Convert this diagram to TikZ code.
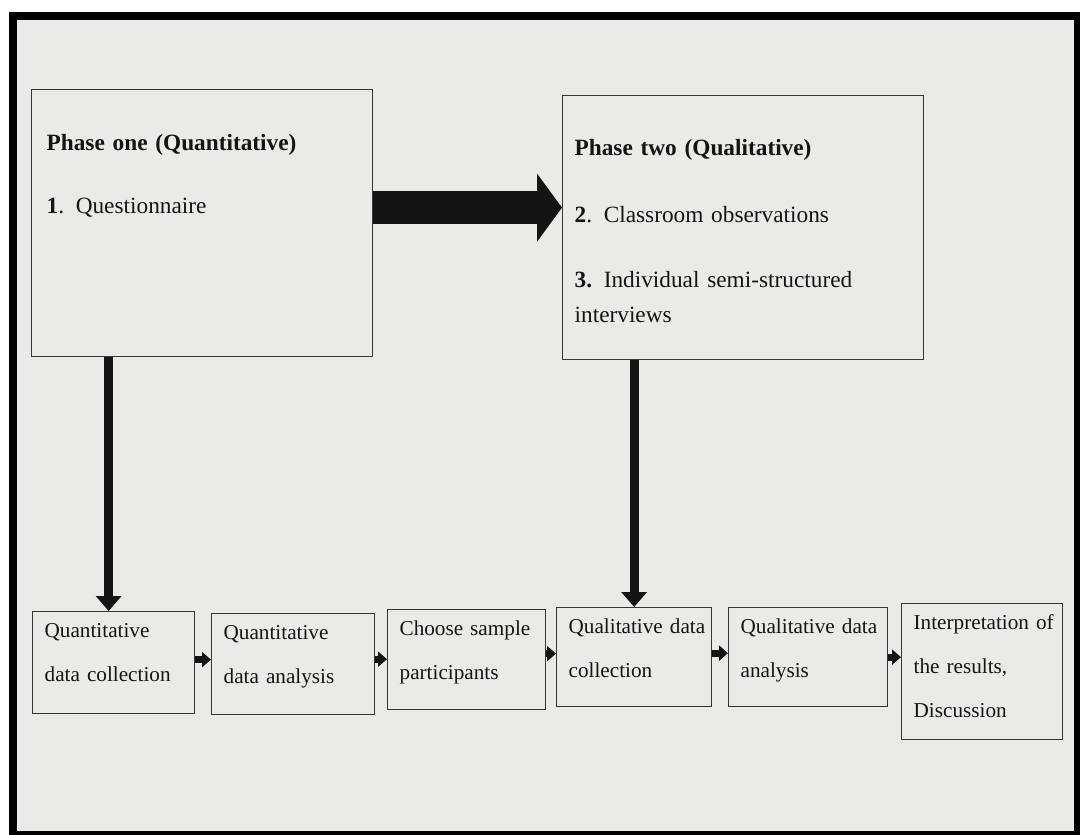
\documentclass[tikz,border=0pt]{standalone}
\usepackage{fontspec}
\setmainfont{Liberation Serif}
\usetikzlibrary{arrows.meta}
\definecolor{paper}{RGB}{234,234,232}
\definecolor{ink}{RGB}{20,20,20}
\definecolor{edge}{RGB}{55,55,55}
\begin{document}
\begin{tikzpicture}[x=1pt,y=-1pt,
    phasebox/.style={draw=edge,line width=1.3pt,anchor=north west,align=left,inner ysep=0pt,text=ink,font=\fontsize{23.3}{35}\selectfont},
    stepbox/.style={draw=edge,line width=1.3pt,anchor=north west,align=left,inner xsep=12pt,inner ysep=0pt,text height=26pt,text=ink,font=\fontsize{21.2}{44}\selectfont},
    linkarrow/.style={draw=ink,line width=7pt,-{Triangle[width=15pt,length=9pt]}},
    droparrow/.style={draw=ink,line width=9pt,-{Triangle[width=25pt,length=15pt]}},
    mainarrow/.style={draw=ink,line width=33pt,-{Triangle[width=67pt,length=25pt]}}]
        \useasboundingbox (0,0) rectangle (1080,835);
        \clip (0,0) rectangle (1080,835);
        \fill[white] (0,0) rectangle (1080,835);
        \fill[paper] (12,15) rectangle (1080,835);
        \draw[line width=8pt] (12.5,15.5) rectangle (1078,835);
        % the two phases
        \node[phasebox,inner xsep=15pt,text width=311pt,text height=61pt,text depth=206pt] (p1) at (31,89) {\textbf{Phase one (Quantitative)}\\[28pt]\textbf{1}. Questionnaire};
        \node[phasebox,inner xsep=12pt,text width=337pt,text height=60pt,text depth=204pt] (p2) at (562,95) {\textbf{Phase two (Qualitative)}\\[32pt]\textbf{2}. Classroom observations\\[30pt]\textbf{3.} Individual semi-structured\\interviews};
        % the steps
        \node[stepbox,text width=138pt,text depth=76pt] (1) at (32,611) {Quantitative\\data collection};
        \node[stepbox,text width=139pt,text depth=75pt] (2) at (211,613) {Quantitative\\data analysis};
        \node[stepbox,text width=134pt,text depth=74pt] (3) at (387,609) {\mbox{Choose\hspace{7pt}sample}\\participants};
        \node[stepbox,text width=131pt,text depth=73pt] (4) at (556,607) {\mbox{Qualitative data}\\collection};
        \node[stepbox,text width=135pt,text depth=73pt] (5) at (728,607) {\mbox{Qualitative data}\\analysis};
        \node[stepbox,text width=137pt,text depth=110pt] (6) at (901,603) {\mbox{Interpretation of}\\the results,\\Discussion};
        \coordinate (d1) at ([xshift=-5pt]1.north);
        \draw[mainarrow] ([yshift=15.5pt]p1.east) -- ([yshift=15.5pt]p1.east -| p2.west);
        \draw[droparrow] (d1 |- p1.south) -- (d1);
        \draw[droparrow] (4.north |- p2.south) -- (4.north);
        \draw[linkarrow] ([yshift=3pt]1.east) -- ([yshift=3pt]1.east -| 2.west);
        \draw[linkarrow] ([yshift=5pt]2.east) -- ([yshift=5pt]2.east -| 3.west);
        \draw[linkarrow] ([yshift=6pt]3.east) -- ([yshift=6pt]3.east -| 4.west);
        \draw[linkarrow] ([yshift=4pt]4.east) -- ([yshift=4pt]4.east -| 5.west);
        \draw[linkarrow] (5.east) -- (5.east -| 6.west);
\end{tikzpicture}
\end{document}
